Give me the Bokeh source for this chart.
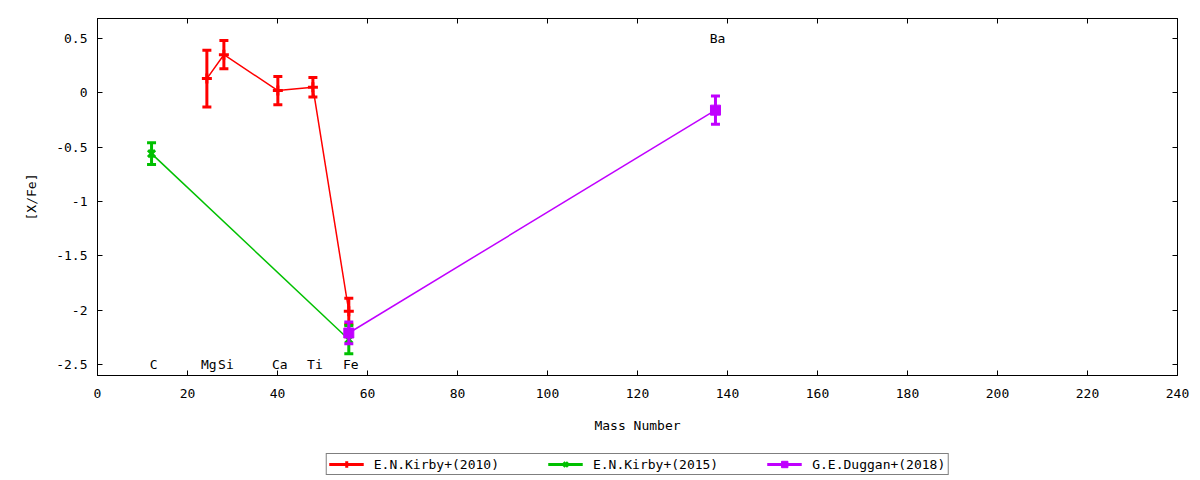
from bokeh.plotting import figure
from bokeh.layouts import column
from bokeh.models import (LinearAxis, FixedTicker, Legend, LegendItem, ColumnDataSource, Range1d)
from bokeh.core.properties import value
from bokeh.embed import file_html
from bokeh.resources import INLINE

# ---- data ----
elements = ["C", "Mg", "Si", "Ca", "Ti", "Fe", "Ba"]
elem_mass = [12.011, 24.305, 28.086, 40.078, 47.867, 55.845, 137.327]
elem_label_y = [-2.5, -2.5, -2.5, -2.5, -2.5, -2.5, 0.5]

kirby2010_x = [24.305, 28.086, 40.078, 47.867, 55.845]
kirby2010_y = [0.13, 0.35, 0.02, 0.05, -2.01]
kirby2010_err = [0.26, 0.13, 0.13, 0.09, 0.12]

kirby2015_x = [12.011, 55.845]
kirby2015_y = [-0.56, -2.27]
kirby2015_err = [0.10, 0.13]

duggan2018_x = [55.845, 137.327]
duggan2018_y = [-2.21, -0.16]
duggan2018_err = [0.10, 0.13]

x_ticks = list(range(0, 241, 20))
y_ticks = [0.5, 0, -0.5, -1, -1.5, -2, -2.5]
y_tick_labels = ["0.5", "0", "-0.5", "-1", "-1.5", "-2", "-2.5"]

series = [
    ("E.N.Kirby+(2010)", kirby2010_x, kirby2010_y, kirby2010_err, "#ff0000", "cross"),
    ("E.N.Kirby+(2015)", kirby2015_x, kirby2015_y, kirby2015_err, "#00c000", "x"),
    ("G.E.Duggan+(2018)", duggan2018_x, duggan2018_y, duggan2018_err, "#c000ff", "square"),
]

FONT = "DejaVu Sans Mono"
FS = "13px"

p = figure(width=1200, height=448, output_backend="svg", toolbar_location=None,
           x_range=Range1d(0, 240), y_range=Range1d(-2.601, 0.683),
           min_border_left=97, min_border_right=23, min_border_top=17, min_border_bottom=73)
p.grid.visible = False
p.outline_line_color = "black"
p.outline_line_width = 1

def style_axis(ax):
    ax.major_tick_in = 5
    ax.major_tick_out = 0
    ax.minor_tick_line_color = None
    ax.major_tick_line_color = "black"
    ax.axis_line_color = "black"
    ax.major_label_text_font = FONT
    ax.major_label_text_font_size = FS
    ax.major_label_text_color = "black"
    ax.axis_label_text_font = FONT
    ax.axis_label_text_font_size = FS
    ax.axis_label_text_font_style = "normal"
    ax.axis_label_text_color = "black"

p.xaxis.ticker = FixedTicker(ticks=x_ticks)
p.yaxis.ticker = FixedTicker(ticks=y_ticks)
p.yaxis.major_label_overrides = {float(t): l for t, l in zip(y_ticks, y_tick_labels)}
style_axis(p.xaxis[0])
style_axis(p.yaxis[0])
p.xaxis.axis_label = "Mass Number"
p.yaxis.axis_label = "[X/Fe]"
p.xaxis.major_label_standoff = 13
p.xaxis.axis_label_standoff = 17
p.yaxis.major_label_standoff = 10
p.yaxis.axis_label_standoff = 14

# mirrored tick marks on the right and top edges
right = LinearAxis(ticker=FixedTicker(ticks=y_ticks))
style_axis(right)
right.major_label_overrides = {float(t): " " for t in y_ticks}
right.major_label_standoff = 0
p.add_layout(right, "right")
top = LinearAxis(ticker=FixedTicker(ticks=x_ticks))
style_axis(top)
top.major_label_overrides = {float(t): " " for t in x_ticks}
top.major_label_standoff = 0
p.add_layout(top, "above")

for name, xs, ys, errs, color, marker in series:
    upper = [y + e for y, e in zip(ys, errs)]
    lower = [y - e for y, e in zip(ys, errs)]
    src = ColumnDataSource(dict(x=xs, y=ys, upper=upper, lower=lower))
    p.line("x", "y", source=src, line_color=color, line_width=1.5)
    p.segment(x0="x", y0="lower", x1="x", y1="upper", source=src, line_color=color, line_width=3)
    p.scatter("x", "upper", source=src, marker="dash", size=9, line_color=color, line_width=3)
    p.scatter("x", "lower", source=src, marker="dash", size=9, line_color=color, line_width=3)
    if marker == "square":
        p.scatter("x", "y", source=src, marker="square", size=10, fill_color=color, line_color=color)
    else:
        p.scatter("x", "y", source=src, marker=marker, size=10, line_color=color, line_width=3)

lsrc = ColumnDataSource(dict(x=elem_mass, y=elem_label_y, t=elements))
p.text("x", "y", text="t", source=lsrc, text_align="center", text_baseline="middle",
       x_offset=2, text_font=value(FONT), text_font_size=FS, text_color="black")

# ---- legend strip below the chart (series drawn out of view, only their legend shows) ----
pl = figure(width=1200, height=32, output_backend="svg", toolbar_location=None,
            x_range=Range1d(-1000, -999), y_range=Range1d(-1000, -999),
            min_border_left=97, min_border_right=23, min_border_top=0, min_border_bottom=0)
pl.axis.visible = False
pl.grid.visible = False
pl.outline_line_color = None

items = []
for name, xs, ys, errs, color, marker in series:
    src = ColumnDataSource(dict(x=xs, y=ys))
    ln = pl.line("x", "y", source=src, line_color=color, line_width=3)
    if marker == "square":
        mk = pl.scatter("x", "y", source=src, marker="square", size=10, fill_color=color, line_color=color)
    else:
        mk = pl.scatter("x", "y", source=src, marker=marker, size=10, line_color=color, line_width=3)
    items.append(LegendItem(label=name, renderers=[ln, mk]))

legend = Legend(items=items, orientation="horizontal", location="center",
                glyph_width=35, glyph_height=16, label_height=16, label_standoff=10,
                spacing=49, padding=2, margin=0,
                label_text_font=FONT, label_text_font_size=FS, label_text_color="black",
                border_line_color="black", border_line_width=1,
                background_fill_color="white", background_fill_alpha=1)
pl.add_layout(legend, "center")

layout = column(p, pl, spacing=0)
open("out.html", "w").write(file_html(layout, INLINE))
